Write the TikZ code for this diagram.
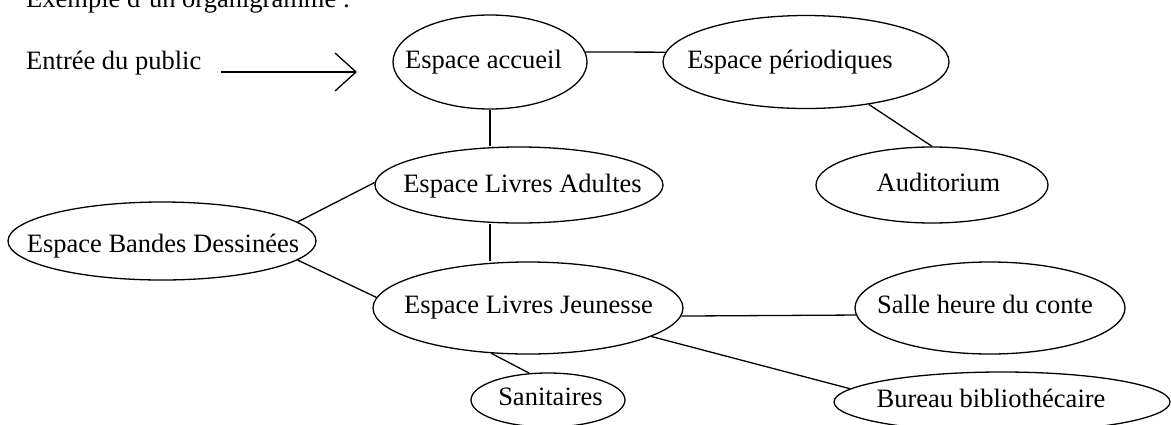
\documentclass[tikz,border=0pt]{standalone}
\usepackage{fontspec}
\setmainfont{Liberation Serif}
\usetikzlibrary{shapes.geometric,arrows.meta}
\begin{document}
\begin{tikzpicture}[x=1pt,y=-1pt,
  every node/.style={font=\fontsize{26.5}{30}\selectfont},
  ell/.style={draw, ellipse, line width=1.3pt, inner sep=0pt},
  txt/.style={anchor=base, inner sep=0pt},
  lbl/.style={anchor=base west, inner sep=0pt},
  link/.style={line width=1.3pt}]
\useasboundingbox (0,0) rectangle (1171,424);
% free texts
\node[lbl] (title) at (26,7) {Exemple d'un organigramme :};
\node[lbl] (ent) at (26,69) {Entrée du public};
\coordinate (arrS) at (221,72);
\coordinate (arrE) at (357,72);
\draw[link, -{Straight Barb[length=21pt,width=38pt]}] (arrS) -- (arrE);
% ellipses
\node[ell, minimum width=194, minimum height=94] (acc) at (490,62) {};
\node[ell, minimum width=286, minimum height=93] (per) at (806,62) {};
\node[ell, minimum width=232, minimum height=76] (aud) at (932,185) {};
\node[ell, minimum width=288, minimum height=76] (adu) at (519,185) {};
\node[ell, minimum width=308, minimum height=78] (bd)  at (162,241) {};
\node[ell, minimum width=310, minimum height=92] (jeu) at (528,308) {};
\node[ell, minimum width=270, minimum height=92] (sal) at (990,308) {};
\node[ell, minimum width=336, minimum height=60] (bur) at (1002,402) {};
\node[ell, minimum width=154, minimum height=54] (san) at (548,400) {};
% texts
\node[txt] (accT) at (483.5,68) {Espace accueil};
\node[txt] (perT) at (790,68) {Espace périodiques};
\node[txt] (audT) at (938.5,191) {Auditorium};
\node[txt] (aduT) at (522.5,192) {Espace Livres Adultes};
\node[txt] (bdT)  at (163,252) {Espace Bandes Dessinées};
\node[txt] (jeuT) at (528.5,313) {Espace Livres Jeunesse};
\node[txt] (salT) at (985,313) {Salle heure du conte};
\node[txt] (burT) at (991,407) {Bureau bibliothécaire};
\node[txt] (sanT) at (550.5,405) {Sanitaires};
% connectors
\draw[link] (acc.6) -- (per.176);
\draw[link] (per.-34) -- (aud.north);
\draw[link] (acc.south) -- (acc.south |- adu.north);
\draw[link] (acc.south |- adu.south) -- (acc.south |- jeu.north);
\draw[link] (bd.8) -- (adu.179);
\draw[link] (bd.-8) -- (jeu.176);
\draw[link] (jeu.-3) -- (sal.183);
\draw[link] (jeu.-13) -- (bur.175);
\draw[link] (jeu.231) -- (san.125);
\end{tikzpicture}
\end{document}
